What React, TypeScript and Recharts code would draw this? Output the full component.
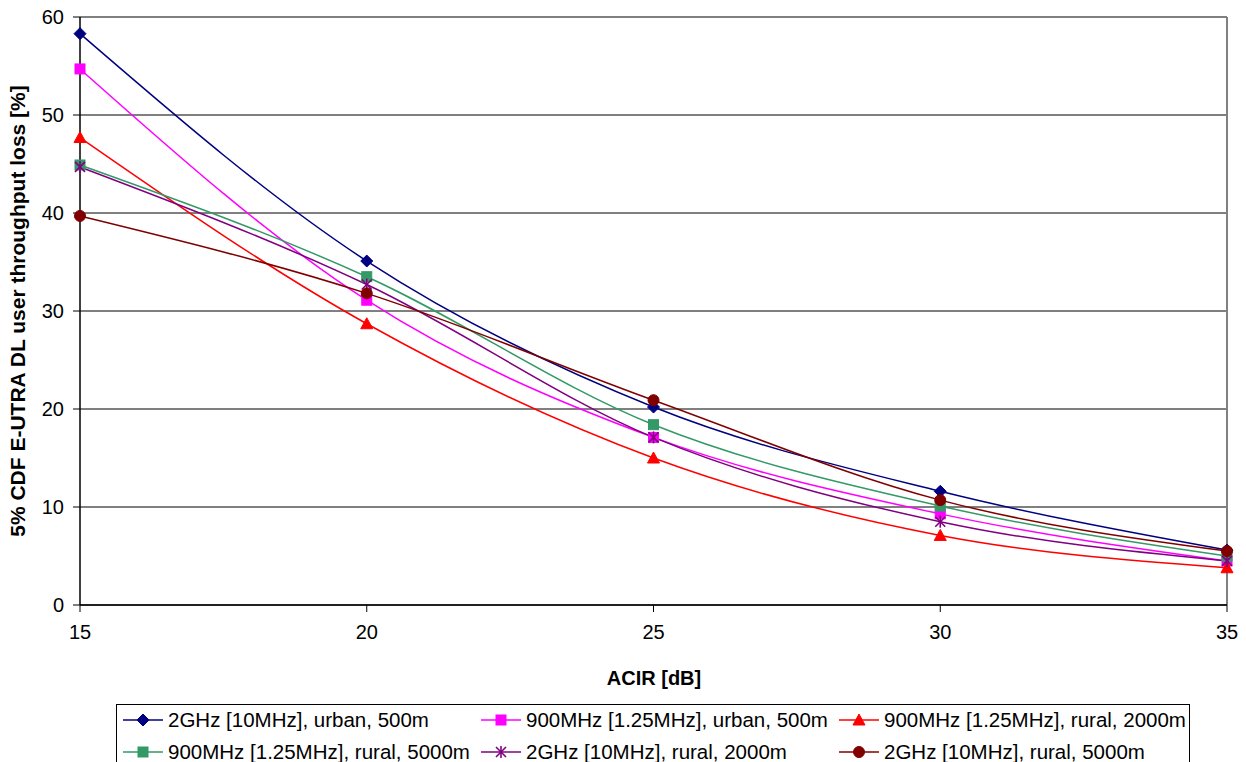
import React from 'react';
import { LineChart, Line, XAxis, YAxis, CartesianGrid, ReferenceLine, Label } from 'recharts';

const acir = [15, 20, 25, 30, 35];
const yTicks = [0, 10, 20, 30, 40, 50, 60];
const ghz2Urban500 = [58.3, 35.1, 20.2, 11.6, 5.6];
const mhz900Urban500 = [54.7, 31.1, 17.1, 9.3, 4.5];
const mhz900Rural2000 = [47.7, 28.7, 15.0, 7.1, 3.8];
const mhz900Rural5000 = [44.9, 33.5, 18.4, 10.1, 5.0];
const ghz2Rural2000 = [44.7, 32.7, 17.1, 8.5, 4.5];
const ghz2Rural5000 = [39.7, 31.8, 20.9, 10.7, 5.5];

const seriesDefs = [
  { key: 's1', name: '2GHz [10MHz], urban, 500m', values: ghz2Urban500, color: '#000080', marker: 'diamond' },
  { key: 's2', name: '900MHz [1.25MHz], urban, 500m', values: mhz900Urban500, color: '#FF00FF', marker: 'square' },
  { key: 's3', name: '900MHz [1.25MHz], rural, 2000m', values: mhz900Rural2000, color: '#FF0000', marker: 'triangle' },
  { key: 's4', name: '900MHz [1.25MHz], rural, 5000m', values: mhz900Rural5000, color: '#339966', marker: 'square' },
  { key: 's5', name: '2GHz [10MHz], rural, 2000m', values: ghz2Rural2000, color: '#800080', marker: 'star' },
  { key: 's6', name: '2GHz [10MHz], rural, 5000m', values: ghz2Rural5000, color: '#800000', marker: 'circle' },
];

const data = acir.map((x, i) => {
  const row: any = { acir: x };
  seriesDefs.forEach((s) => { row[s.key] = s.values[i]; });
  return row;
});

const FONT = '"Liberation Sans", Arial, sans-serif';

function markerShape(kind: string, color: string, cx: number, cy: number, k?: any) {
  switch (kind) {
    case 'diamond':
      return <polygon key={k} points={`${cx},${cy - 6} ${cx + 6},${cy} ${cx},${cy + 6} ${cx - 6},${cy}`} fill={color} stroke={color} />;
    case 'square':
      return <rect key={k} x={cx - 5} y={cy - 5} width={10} height={10} fill={color} stroke={color} />;
    case 'triangle':
      return <polygon key={k} points={`${cx},${cy - 6} ${cx + 6},${cy + 5} ${cx - 6},${cy + 5}`} fill={color} stroke={color} />;
    case 'circle':
      return <circle key={k} cx={cx} cy={cy} r={5.5} fill={color} stroke={color} />;
    case 'star':
      return (
        <g key={k} stroke={color} strokeWidth={1.6}>
          <line x1={cx - 5} y1={cy - 5} x2={cx + 5} y2={cy + 5} />
          <line x1={cx - 5} y1={cy + 5} x2={cx + 5} y2={cy - 5} />
          <line x1={cx} y1={cy - 6} x2={cx} y2={cy + 6} />
        </g>
      );
    default:
      return null;
  }
}

const makeDot = (kind: string, color: string) => (props: any) => {
  const { cx, cy, index } = props;
  if (cx == null || cy == null) return <g key={`d${index}`} />;
  return markerShape(kind, color, cx, cy, `d${index}`);
};

const legendCols = [122, 480, 838];
const legendRows = [719, 751];

function LegendBox() {
  return (
    <div
      style={{
        position: 'absolute',
        left: 116,
        top: 704,
        width: 1074,
        height: 70,
        border: '1px solid #000',
        boxSizing: 'border-box',
        background: '#fff',
      }}
    >
      {seriesDefs.map((s, i) => {
        const col = i % 3;
        const row = Math.floor(i / 3);
        const left = legendCols[col] - 116;
        const top = legendRows[row] - 704 - 12;
        return (
          <div key={s.key} style={{ position: 'absolute', left, top, height: 24, display: 'flex', alignItems: 'center', whiteSpace: 'nowrap' }}>
            <svg width={40} height={24} style={{ display: 'block' }}>
              <line x1={0} y1={12} x2={40} y2={12} stroke={s.color} strokeWidth={1.5} />
              {markerShape(s.marker, s.color, 20, 12)}
            </svg>
            <span style={{ marginLeft: 5, fontFamily: FONT, fontSize: 20.5, color: '#000' }}>{s.name}</span>
          </div>
        );
      })}
    </div>
  );
}

export default function App() {
  return (
    <div style={{ position: 'absolute', left: 0, top: 0, width: 1246, height: 762, overflow: 'hidden', background: '#fff' }}>
      <LineChart
        width={1246}
        height={762}
        data={data}
        margin={{ top: 17, right: 19, left: 0, bottom: 107 }}
      >
        <CartesianGrid vertical={false} stroke="#000" strokeWidth={1} />
        <XAxis
          dataKey="acir"
          type="number"
          domain={[15, 35]}
          ticks={acir}
          height={50}
          axisLine={{ stroke: '#000', strokeWidth: 1.5 }}
          tickLine={{ stroke: '#000' }}
          tickSize={7}
          tickMargin={13}
          tick={{ fill: '#000', fontSize: 20, fontFamily: FONT }}
          interval={0}
        />
        <YAxis
          type="number"
          domain={[0, 60]}
          ticks={yTicks}
          width={80}
          axisLine={{ stroke: '#000', strokeWidth: 1.5 }}
          tickLine={{ stroke: '#000' }}
          tickSize={7}
          tickMargin={9}
          tick={{ fill: '#000', fontSize: 20, fontFamily: FONT }}
          interval={0}
        >
          <Label
            value="5% CDF E-UTRA DL user throughput loss [%]"
            angle={-90}
            position="insideLeft"
            offset={18}
            style={{ textAnchor: 'middle', fontWeight: 'bold', fontSize: 21, fontFamily: FONT, fill: '#000' }}
          />
        </YAxis>
        <ReferenceLine y={60} stroke="#808080" strokeWidth={2} />
        <ReferenceLine x={35} stroke="#808080" strokeWidth={2} />
        {seriesDefs.map((s) => (
          <Line
            key={s.key}
            dataKey={s.key}
            name={s.name}
            type="monotone"
            stroke={s.color}
            strokeWidth={1.5}
            dot={makeDot(s.marker, s.color)}
            activeDot={false}
            isAnimationActive={false}
          />
        ))}
      </LineChart>
      <div
        style={{
          position: 'absolute',
          left: 0,
          width: 1246,
          top: 667,
          textAlign: 'center',
          paddingLeft: 62,
          boxSizing: 'border-box',
          fontFamily: FONT,
          fontWeight: 'bold',
          fontSize: 20,
          lineHeight: '23px',
          color: '#000',
        }}
      >
        ACIR [dB]
      </div>
      <LegendBox />
    </div>
  );
}
